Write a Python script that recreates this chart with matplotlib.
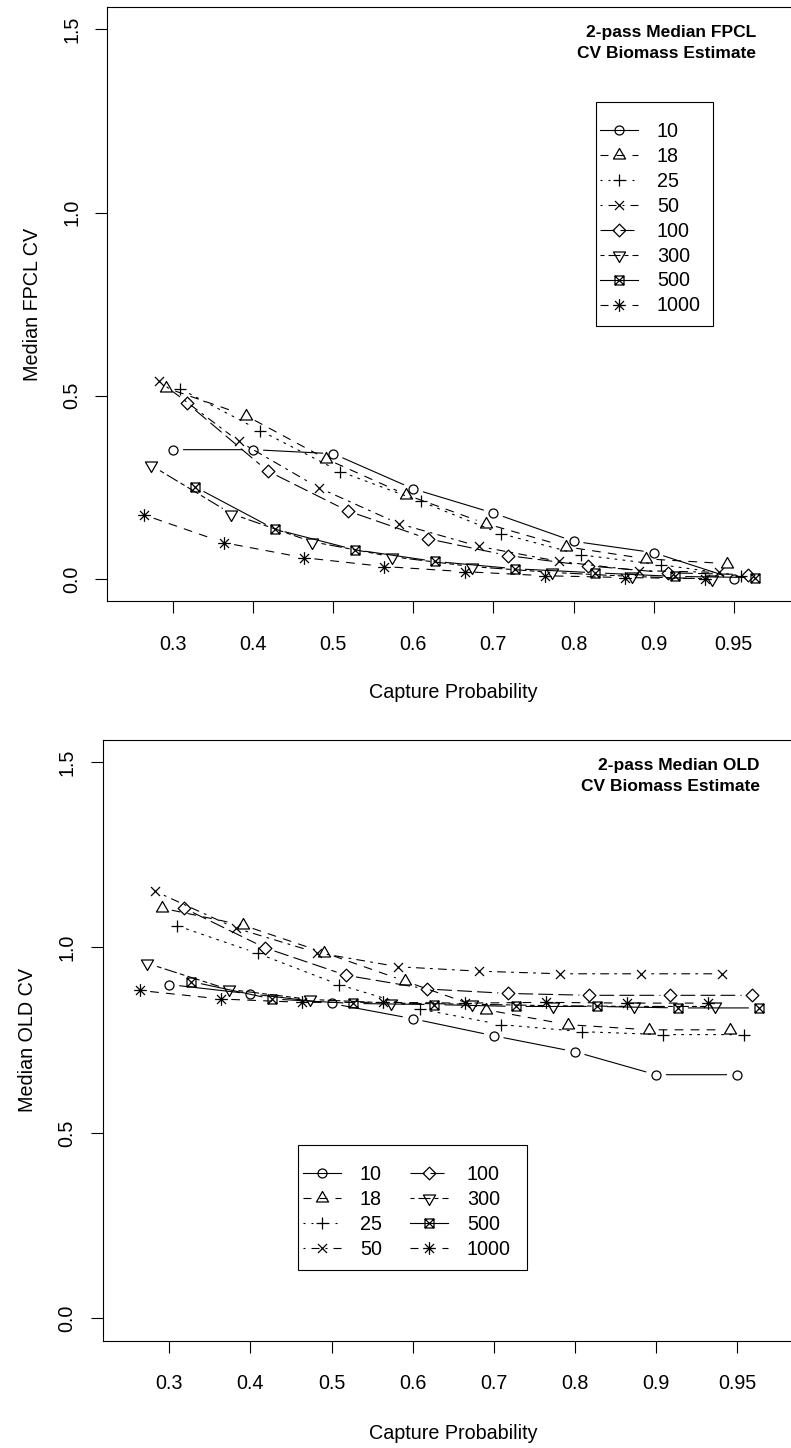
import numpy as np
import matplotlib
matplotlib.use('Agg')
import matplotlib.pyplot as plt
from matplotlib.path import Path
from matplotlib.lines import Line2D
from matplotlib.patches import Rectangle

plt.rcParams['font.family'] = ['Liberation Sans', 'DejaVu Sans']
plt.rcParams['lines.scale_dashes'] = False

# capture probability categories and the population sizes (series)
x_labels = ['0.3', '0.4', '0.5', '0.6', '0.7', '0.8', '0.9', '0.95']
group_names = ['10', '18', '25', '50', '100', '300', '500', '1000']
# small sideways shift of each series so the symbols don't sit on top of each other
x_shift = [0.0, -0.09, 0.09, -0.18, 0.18, -0.27, 0.27, -0.36]

# top panel: median FPCL CV
fpcl_10 = [0.353, 0.353, 0.342, 0.246, 0.180, 0.103, 0.072, 0.001]
fpcl_18 = [0.522, 0.446, 0.328, 0.230, 0.151, 0.088, 0.055, 0.042]
fpcl_25 = [0.519, 0.405, 0.293, 0.212, 0.124, 0.066, 0.039, 0.009]
fpcl_50 = [0.541, 0.376, 0.249, 0.151, 0.089, 0.048, 0.023, 0.018]
fpcl_100 = [0.479, 0.295, 0.186, 0.110, 0.064, 0.036, 0.017, 0.012]
fpcl_300 = [0.310, 0.178, 0.102, 0.061, 0.034, 0.018, 0.007, 0.000]
fpcl_500 = [0.252, 0.136, 0.080, 0.048, 0.028, 0.017, 0.007, 0.004]
fpcl_1000 = [0.175, 0.099, 0.058, 0.034, 0.020, 0.009, 0.004, 0.001]

# bottom panel: median OLD CV
old_10 = [0.900, 0.875, 0.849, 0.808, 0.762, 0.719, 0.657, 0.657]
old_18 = [1.106, 1.060, 0.986, 0.909, 0.832, 0.792, 0.778, 0.778]
old_25 = [1.059, 0.984, 0.900, 0.834, 0.792, 0.773, 0.765, 0.765]
old_50 = [1.152, 1.052, 0.986, 0.948, 0.936, 0.929, 0.929, 0.929]
old_100 = [1.106, 0.999, 0.925, 0.888, 0.876, 0.871, 0.871, 0.871]
old_300 = [0.957, 0.887, 0.860, 0.850, 0.847, 0.843, 0.841, 0.841]
old_500 = [0.908, 0.861, 0.849, 0.846, 0.841, 0.841, 0.837, 0.837]
old_1000 = [0.884, 0.861, 0.852, 0.852, 0.850, 0.852, 0.850, 0.850]

fpcl = [fpcl_10, fpcl_18, fpcl_25, fpcl_50, fpcl_100, fpcl_300, fpcl_500, fpcl_1000]
old = [old_10, old_18, old_25, old_50, old_100, old_300, old_500, old_1000]

W, H, DPI = 791, 1448, 100
FS = 14.2
R_PX = 4.5  # R symbol radius in pixels


def px_box(l, t, r, b):
    return [l / W, 1 - b / H, (r - l) / W, (b - t) / H]


# R-like plotting symbols, pch 1..8
M, L, C = Path.MOVETO, Path.LINETO, Path.CLOSEPOLY
s2 = np.sqrt(2)
tri = [(0, 1.555), (1.347, -0.778), (-1.347, -0.778), (0, 1.555)]
sym_paths = [
    None,
    Path(tri, [M, L, L, C]),
    Path([(0, -s2), (0, s2), (-s2, 0), (s2, 0)], [M, L, M, L]),
    Path([(-1, -1), (1, 1), (-1, 1), (1, -1)], [M, L, M, L]),
    Path([(0, s2), (s2, 0), (0, -s2), (-s2, 0), (0, s2)], [M, L, L, L, C]),
    Path([(x, -y) for x, y in tri], [M, L, L, C]),
    Path([(-1, -1), (1, -1), (1, 1), (-1, 1), (-1, -1), (-1, -1), (1, 1), (-1, 1), (1, -1)],
         [M, L, L, L, C, M, L, M, L]),
    Path([(0, -s2), (0, s2), (-s2, 0), (s2, 0), (-1, -1), (1, 1), (-1, 1), (1, -1)],
         [M, L, M, L, M, L, M, L]),
]
sym_extent = [1.0, 1.555, s2, 1.0, s2, 1.555, 1.0, s2]
markers = ['o' if p is None else p for p in sym_paths]
msizes = [2 * e * R_PX * 72 / DPI for e in sym_extent]

# R line types 1,2,3,4,5,6,1,2
u = 1.44
lt = {
    'solid': 'solid',
    'dashed': (0, (4 * u, 4 * u)),
    'dotted': (0, (1 * u, 3 * u)),
    'dotdash': (0, (1 * u, 3 * u, 4 * u, 3 * u)),
    'longdash': (0, (7 * u, 3 * u)),
    'twodash': (0, (2 * u, 2 * u, 6 * u, 2 * u)),
}
styles = [lt['solid'], lt['dashed'], lt['dotted'], lt['dotdash'],
          lt['longdash'], lt['twodash'], lt['solid'], lt['dashed']]
LW = 0.8
GAP = 7.5

fig = plt.figure(figsize=(W / DPI, H / DPI), dpi=DPI)
ax_top = fig.add_axes(px_box(107.3, 7.4, 799.4, 601.0))
ax_bot = fig.add_axes(px_box(102.8, 739.7, 803.5, 1340.7))


def draw_panel(ax, data, ylab, title):
    pos = np.arange(1, len(x_labels) + 1)
    for vals, dx, mk, ms, ls in zip(data, x_shift, markers, msizes, styles):
        xs = pos + dx
        ax.plot(xs, vals, linestyle='none', marker=mk, ms=ms, mfc='none',
                mec='black', mew=0.9)
        # type="b": segments stop short of the symbols
        for i in range(len(xs) - 1):
            ax.annotate('', xy=(xs[i + 1], vals[i + 1]), xytext=(xs[i], vals[i]),
                        arrowprops=dict(arrowstyle='-', shrinkA=GAP, shrinkB=GAP,
                                        lw=LW, linestyle=ls, color='black'))
    ax.set_xlim(0.18, 8.82)
    ax.set_ylim(-0.06, 1.56)
    ax.set_xticks(pos, x_labels)
    ax.set_yticks([0, 0.5, 1.0, 1.5], ['0.0', '0.5', '1.0', '1.5'])
    ax.tick_params(length=8.8, width=0.8, labelsize=FS, direction='out')
    ax.tick_params(axis='x', pad=15.5)
    ax.tick_params(axis='y', pad=10, labelrotation=90)
    for lab in ax.get_yticklabels():
        lab.set_va('center')
    for sp in ax.spines.values():
        sp.set_linewidth(0.8)
    ax.set_xlabel('Capture Probability', fontsize=FS)
    ax.set_ylabel(ylab, fontsize=FS)
    ax.xaxis.set_label_coords(0.5, -(692.7 - 601) / 593.6)
    ax.xaxis.label.set_va('center')
    ax.yaxis.set_label_coords(-74.3 / 692.1, 0.5)
    ax.yaxis.label.set_va('center')
    ax.text(0.9373, 0.9496, title[0], transform=ax.transAxes, ha='right',
            va='baseline', fontsize=FS * 0.88, fontweight='bold')
    ax.text(0.9373, 0.9143, title[1], transform=ax.transAxes, ha='right',
            va='baseline', fontsize=FS * 0.88, fontweight='bold')


draw_panel(ax_top, fpcl, 'Median FPCL CV', ['2-pass Median FPCL', 'CV Biomass Estimate'])
draw_panel(ax_bot, old, 'Median OLD CV', ['2-pass Median OLD', 'CV Biomass Estimate'])

handles = [Line2D([], [], color='black', lw=LW, linestyle=ls, marker=mk, ms=ms,
                  mfc='none', mec='black', mew=0.9)
           for mk, ms, ls in zip(markers, msizes, styles)]

leg_kw = dict(frameon=False, fontsize=FS, loc='upper left', borderpad=0,
              borderaxespad=0, handlelength=1.93, handletextpad=0.95,
              labelspacing=0.30, numpoints=1, bbox_transform=fig.transFigure)
fig.legend(handles, group_names, bbox_to_anchor=(600 / W, 1 - 122 / H), **leg_kw)
fig.legend(handles, group_names, ncol=2, columnspacing=1.44,
           bbox_to_anchor=(303 / W, 1 - 1165.3 / H), **leg_kw)

# legend boxes
for l, t, r, b in [(596, 102, 713, 326), (298, 1145, 526.7, 1270)]:
    fig.add_artist(Rectangle((l / W, 1 - b / H), (r - l) / W, (b - t) / H,
                             transform=fig.transFigure, fill=False,
                             edgecolor='black', lw=0.8))

fig.savefig('out.png', dpi=DPI)
